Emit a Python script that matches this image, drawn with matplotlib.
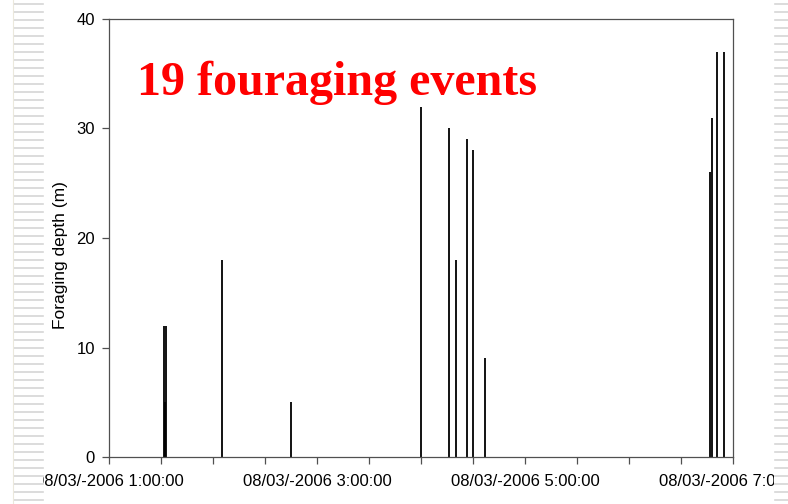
"""Foraging depth of dive events, 8 March 2006."""

from datetime import datetime

import matplotlib

matplotlib.use("Agg")
import matplotlib.dates as mdates
import matplotlib.pyplot as plt
from matplotlib.lines import Line2D
from matplotlib.patches import Rectangle
from matplotlib.ticker import FuncFormatter


# event times (hh:mm:ss) and foraging depth (m)
event_times = [
    "1:31:50", "1:32:30", "1:33:00", "2:05:00", "2:45:00",
    "4:00:00", "4:16:20", "4:20:20", "4:26:30", "4:30:00", "4:36:40",
    "6:46:40", "6:48:00", "6:51:00", "6:54:40",
]
depths = [12, 5, 12, 18, 5, 32, 30, 18, 29, 28, 9, 26, 31, 37, 37]

x_start = "1:00:00"
x_end = "7:00:00"
y_ticks = [0, 10, 20, 30, 40]
title_text = "19 fouraging events"
y_label = "Foraging depth (m)"

W, H = 788, 504


def _to_dt(s):
    return datetime.strptime("2006-03-08 " + s, "%Y-%m-%d %H:%M:%S")


def _fmt(x, pos):
    d = mdates.num2date(x)
    return f"{d:%d/%m}/-{d:%Y} {d.hour}:{d:%M:%S}"


def _stripes(fig, x0, x1, color="#d6d6d6"):
    fig.add_artist(Rectangle((x0 / W, 0), (x1 - x0) / W, 1, transform=fig.transFigure,
                             facecolor="white", edgecolor="none", zorder=5))
    y = 4
    while y < H:
        fig.add_artist(Line2D([(x0 + 1) / W, x1 / W], [1 - y / H, 1 - y / H],
                              transform=fig.transFigure, color=color, lw=1.2, zorder=6))
        y += 8


def main():
    plt.rcParams["font.family"] = ["Liberation Sans", "DejaVu Sans"]
    fig = plt.figure(figsize=(W / 100, H / 100), dpi=100)
    ax = fig.add_axes([109 / W, 1 - 457 / H, 624 / W, 438 / H])

    times = [_to_dt(t) for t in event_times]
    ax.vlines(times, 0, depths, colors="black", lw=1.3)

    ax.set_xlim(_to_dt(x_start), _to_dt(x_end))
    ax.set_ylim(0, 40)
    ax.set_yticks(y_ticks)
    ax.xaxis.set_major_locator(mdates.HourLocator(byhour=[1, 3, 5, 7]))
    ax.xaxis.set_minor_locator(mdates.MinuteLocator(byminute=[0, 30]))
    ax.xaxis.set_major_formatter(FuncFormatter(_fmt))

    for side in ["left", "bottom", "top", "right"]:
        ax.spines[side].set_color("#505050")
        ax.spines[side].set_linewidth(0.9)
    ax.tick_params(axis="both", which="both", direction="out", length=5, width=0.9,
                   color="#505050", labelsize=12, labelcolor="black")
    ax.tick_params(axis="y", pad=5)
    ax.tick_params(axis="x", pad=7)

    ax.set_ylabel(y_label, fontsize=12.5)
    ax.yaxis.set_label_coords(-0.066, 0.46)

    ax.text(0.045, 0.826, title_text, transform=ax.transAxes, ha="left", va="baseline",
            fontsize=34.6, fontweight="bold", color="#ff0000", family="Liberation Serif")

    # slide background stripes on both edges
    fig.add_artist(Line2D([12.5 / W, 12.5 / W], [0, 1], transform=fig.transFigure,
                          color="#ebe8dc", lw=0.8, zorder=7))
    _stripes(fig, 13, 43)
    _stripes(fig, 774, 789)

    fig.savefig("out.png", dpi=100)
    plt.close(fig)


if __name__ == "__main__":
    main()
